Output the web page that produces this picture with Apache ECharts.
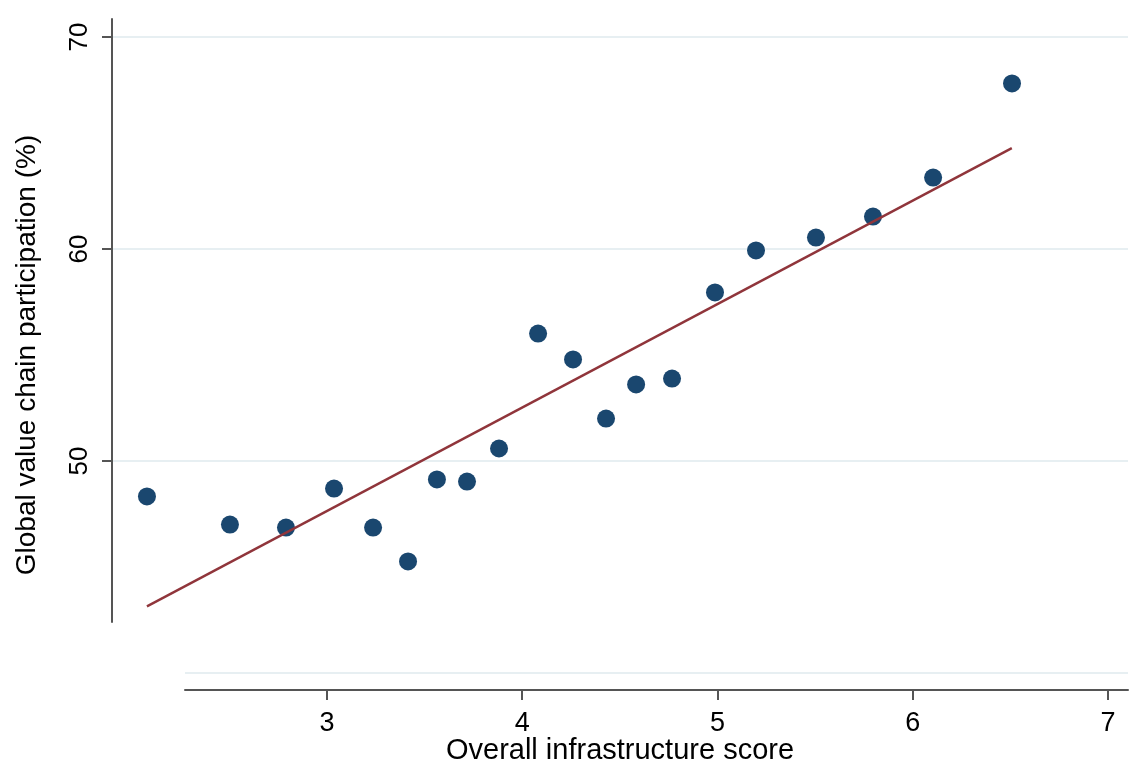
<!DOCTYPE html>
<html>
<head>
<meta charset="utf-8">
<script src="https://cdn.jsdelivr.net/npm/echarts@6/dist/echarts.min.js"></script>
<style>
  html, body { margin: 0; padding: 0; background: #fff; }
  #chart { width: 1130px; height: 765px; }
</style>
</head>
<body>
<div id="chart"></div>
<script>
// Overall infrastructure score vs. global value chain participation, one point per economy
const infraScore = [2.078, 2.503, 2.790, 3.036, 3.236, 3.415, 3.563, 3.717, 3.881, 4.081,
                    4.260, 4.429, 4.583, 4.767, 4.987, 5.197, 5.504, 5.796, 6.104, 6.508];
const gvcShare   = [48.33, 47.00, 46.86, 48.70, 46.86, 45.26, 49.13, 49.03, 50.59, 56.01,
                    54.79, 52.00, 53.61, 53.89, 57.95, 59.93, 60.54, 61.53, 63.37, 67.81];

// Linear fit, drawn between its two end points
const fitX = [2.078, 6.507];
const fitY = [43.14, 64.76];

// Axis tick values
const xTicks = [3, 4, 5, 6, 7];
const yTicks = [50, 60, 70];

const FONT = '"Liberation Sans", Arial, Helvetica, sans-serif';
const AXIS_COLOR = '#555555';
const GRID_COLOR = '#e7eff2';
const DOT_COLOR = '#1a476f';
const FIT_COLOR = '#90353b';
const TEXT_COLOR = '#000000';

const scatterData = infraScore.map((x, i) => [x, gvcShare[i]]);
const fitData = fitX.map((x, i) => [x, fitY[i]]);

const hiddenX = (gridIndex) => ({ type: 'value', gridIndex, show: false, min: 0, max: 1 });
// every grid keeps exactly the box it is given
const box = (o) => Object.assign({ containLabel: false, outerBoundsMode: 'none' }, o);

const chart = echarts.init(document.getElementById('chart'), null, { renderer: 'canvas' });

chart.setOption({
  animation: false,
  backgroundColor: '#ffffff',
  textStyle: { fontFamily: FONT },
  grid: [
    // 0: plot area holding the marks and the axis titles
    box({ left: 112, right: 2, top: 37, height: 636 }),
    // 1: gridlines, ticks and labels for the y values
    box({ left: 112, right: 2, top: 37, height: 424 }),
    // 2: vertical axis rule
    box({ left: 112, width: 10, top: 19, bottom: 143 }),
    // 3: horizontal axis with its own gridline at 40
    box({ left: 185, right: 2, top: 673, bottom: 75 })
  ],
  xAxis: [
    {
      type: 'value', gridIndex: 0, min: 1.899, max: 7.102,
      axisLine: { show: false }, axisTick: { show: false },
      axisLabel: { show: false }, splitLine: { show: false },
      name: 'Overall infrastructure score',
      nameLocation: 'middle', nameGap: 63,
      nameTextStyle: { fontSize: 29, color: TEXT_COLOR, fontFamily: FONT }
    },
    hiddenX(1),
    hiddenX(2),
    {
      type: 'value', gridIndex: 3, min: 2.273, max: 7.102, z: 5,
      axisLine: { show: true, lineStyle: { color: AXIS_COLOR, width: 2 } },
      axisTick: { show: true, length: 10, customValues: xTicks,
                  lineStyle: { color: AXIS_COLOR, width: 2 } },
      axisLabel: { show: true, customValues: xTicks, margin: 20,
                   fontSize: 27, color: TEXT_COLOR, fontFamily: FONT },
      splitLine: { show: false }
    }
  ],
  yAxis: [
    {
      type: 'value', gridIndex: 0, min: 40, max: 70,
      axisLine: { show: false }, axisTick: { show: false },
      axisLabel: { show: false }, splitLine: { show: false },
      name: 'Global value chain participation (%)',
      nameLocation: 'middle', nameGap: 71, nameRotate: 90,
      nameTextStyle: { fontSize: 28, color: TEXT_COLOR, fontFamily: FONT }
    },
    {
      type: 'value', gridIndex: 1, min: 50, max: 70, interval: 10,
      axisLine: { show: false },
      axisTick: { show: true, length: 10, customValues: yTicks,
                  lineStyle: { color: AXIS_COLOR, width: 2 } },
      axisLabel: { show: true, customValues: yTicks, rotate: 90, margin: 19,
                   fontSize: 26, color: TEXT_COLOR, fontFamily: FONT },
      splitLine: { show: true, lineStyle: { color: GRID_COLOR, width: 2 } }
    },
    {
      type: 'value', gridIndex: 2, min: 0, max: 1,
      axisLine: { show: true, lineStyle: { color: AXIS_COLOR, width: 2 } },
      axisTick: { show: false }, axisLabel: { show: false }, splitLine: { show: false }
    },
    {
      type: 'value', gridIndex: 3, min: 0, max: 1, interval: 1,
      axisLine: { show: false }, axisTick: { show: false }, axisLabel: { show: false },
      splitLine: { show: true, lineStyle: { color: GRID_COLOR, width: 2 } }
    }
  ],
  series: [
    {
      type: 'scatter', xAxisIndex: 0, yAxisIndex: 0,
      data: scatterData, symbol: 'circle', symbolSize: 18,
      itemStyle: { color: DOT_COLOR, opacity: 1 }, z: 3
    },
    {
      type: 'line', xAxisIndex: 0, yAxisIndex: 0,
      data: fitData, showSymbol: false, symbol: 'none',
      lineStyle: { color: FIT_COLOR, width: 2.4 }, z: 4
    }
  ]
});
</script>
</body>
</html>
